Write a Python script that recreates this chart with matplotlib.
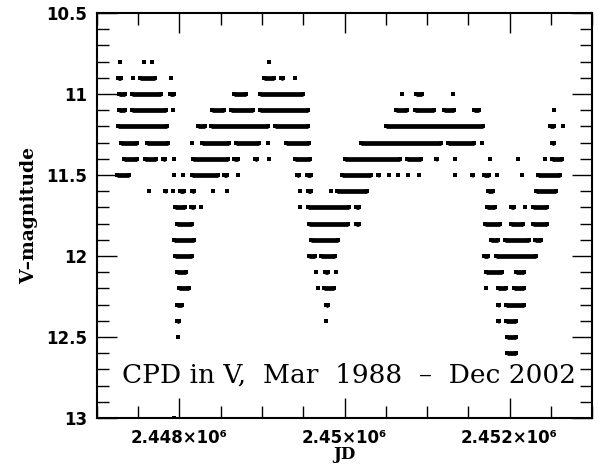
import numpy as np
import matplotlib
matplotlib.use('Agg')
from matplotlib import pyplot as plt
from matplotlib.ticker import MultipleLocator, FixedLocator, FixedFormatter, FormatStrFormatter

# runs of observations at each 0.1 mag level: (first JD, last JD)
v108 = [(2447280, 2447280), (2447570, 2447570), (2447665, 2447665), (2449090, 2449090)]
v109 = [(2447250, 2447290), (2447440, 2447440), (2447525, 2447700), (2447895, 2447895),
		(2449030, 2449140), (2449230, 2449255), (2449400, 2449400)]
v110 = [(2447265, 2447340), (2447420, 2447780), (2447890, 2447930), (2448660, 2448800),
		(2448970, 2449500), (2450700, 2450700), (2450870, 2450940), (2451315, 2451315)]
v111 = [(2447265, 2447340), (2447420, 2447840), (2447925, 2447925), (2448390, 2448535),
		(2448620, 2448885), (2448975, 2449555), (2450620, 2450760), (2450850, 2451085),
		(2451205, 2451325), (2451570, 2451625), (2452535, 2452535)]
v112 = [(2447255, 2447850), (2448220, 2448305), (2448380, 2449070), (2449155, 2449555),
		(2450500, 2451680), (2452495, 2452535), (2452645, 2452645)]
v113 = [(2447290, 2447480), (2447605, 2447860), (2448155, 2448155), (2448275, 2448595),
		(2448685, 2448965), (2449070, 2449070), (2449290, 2449575), (2450195, 2451175),
		(2451255, 2451570), (2451670, 2451670), (2452510, 2452535)]
v114 = [(2447330, 2447485), (2447580, 2447715), (2447800, 2447820), (2447930, 2447930),
		(2448160, 2448590), (2448660, 2448705), (2448920, 2448945), (2449080, 2449080),
		(2449400, 2449585), (2450005, 2450670), (2450760, 2450925), (2451105, 2451125),
		(2451340, 2451340), (2451760, 2451760), (2452100, 2452100), (2452430, 2452430),
		(2452510, 2452640)]
v115 = [(2447245, 2447385), (2447930, 2447930), (2448040, 2448040), (2448150, 2448465),
		(2448540, 2448575), (2448705, 2448705), (2449430, 2449450), (2449540, 2449595),
		(2449965, 2450320), (2450405, 2450415), (2450540, 2450540), (2450650, 2450650),
		(2450775, 2450775), (2450905, 2450905), (2451335, 2451335), (2451550, 2451560),
		(2451685, 2451755), (2451850, 2451850), (2452150, 2452150), (2452350, 2452615)]
v116 = [(2447625, 2447625), (2447830, 2447835), (2447925, 2447925), (2448010, 2448050),
		(2448150, 2448175), (2448410, 2448410), (2448575, 2448575), (2449455, 2449455),
		(2449560, 2449595), (2449840, 2449840), (2449915, 2450270), (2451745, 2451800),
		(2452315, 2452565)]
v117 = [(2447940, 2448070), (2448140, 2448175), (2448260, 2448260), (2449460, 2449460),
		(2449560, 2450060), (2450135, 2450175), (2451730, 2451820), (2452015, 2452050),
		(2452185, 2452185), (2452290, 2452455)]
v118 = [(2447970, 2448150), (2449575, 2450045), (2450145, 2450170), (2451705, 2451890),
		(2452020, 2452165), (2452290, 2452455)]
v119 = [(2447930, 2448175), (2449590, 2449925), (2451770, 2451860), (2451950, 2452240),
		(2452310, 2452385)]
v120 = [(2447940, 2448150), (2449575, 2449645), (2449720, 2449885), (2451695, 2451740),
		(2451835, 2452315)]
v121 = [(2447970, 2448080), (2449660, 2449660), (2449760, 2449805), (2449900, 2449900),
		(2451715, 2451910), (2452075, 2452175)]
v122 = [(2448000, 2448110), (2449675, 2449675), (2449755, 2449875), (2451710, 2451710),
		(2451860, 2451960), (2452060, 2452175)]
v123 = [(2447970, 2448025), (2449780, 2449805), (2451860, 2451870), (2451960, 2452175)]
v124 = [(2447970, 2448000), (2449780, 2449780), (2451860, 2451870), (2451960, 2452080)]
v125 = [(2447980, 2447980), (2451965, 2452080)]
v126 = [(2451965, 2452080)]
v130 = [(2447930, 2447930)]

levels = [(10.8, v108), (10.9, v109), (11.0, v110), (11.1, v111), (11.2, v112),
		  (11.3, v113), (11.4, v114), (11.5, v115), (11.6, v116), (11.7, v117),
		  (11.8, v118), (11.9, v119), (12.0, v120), (12.1, v121), (12.2, v122),
		  (12.3, v123), (12.4, v124), (12.5, v125), (12.6, v126), (13.0, v130)]

xticks = [2448000, 2450000, 2452000]
xtick_labels = ['2.448\u00d710\u2076', '2.45\u00d710\u2076', '2.452\u00d710\u2076']
title = 'CPD in V,  Mar  1988  \u2013  Dec 2002'

fig = plt.figure(figsize=(5.98, 4.65), dpi=100)
ax = fig.add_axes([0.1622, 0.1011, 0.8278, 0.871])

msize = 3.4
for mag, runs in levels:
	starts = np.array([r[0] for r in runs])
	ends = np.array([r[1] for r in runs])
	ax.hlines(np.full(len(runs), mag), starts, ends, colors='black', lw=msize,
			  capstyle='butt')
	ax.scatter(np.r_[starts, ends], np.full(2*len(runs), mag), marker='s',
			   s=msize**2, c='black', linewidths=0)

ax.set_xlim(2447000, 2453000)
ax.set_ylim(13, 10.5)

ax.xaxis.set_major_locator(FixedLocator(xticks))
ax.xaxis.set_major_formatter(FixedFormatter(xtick_labels))
ax.xaxis.set_minor_locator(MultipleLocator(500))
ax.yaxis.set_major_locator(MultipleLocator(0.5))
ax.yaxis.set_minor_locator(MultipleLocator(0.1))
ax.yaxis.set_major_formatter(FormatStrFormatter('%g'))

ax.tick_params(which='both', direction='in', top=True, right=True, color='black')
ax.tick_params(which='major', length=14.5, width=1.0)
ax.tick_params(which='minor', length=8.5, width=1.0)
ax.tick_params(axis='x', which='major', pad=8)
ax.tick_params(axis='y', which='major', pad=7)
for lab in ax.get_xticklabels() + ax.get_yticklabels():
	lab.set_fontfamily('DejaVu Sans')
	lab.set_fontweight('bold')
	lab.set_fontsize(12)
for sp in ax.spines.values():
	sp.set_linewidth(1.5)

ax.set_xlabel('JD', fontfamily='DejaVu Serif', fontweight='bold', fontsize=12, labelpad=-1)
ax.set_ylabel('V\u2013magnitude', fontfamily='DejaVu Serif', fontweight='bold', fontsize=13.5,
			  labelpad=6)

ax.text(0.0515, 0.0864, title, transform=ax.transAxes, fontfamily='DejaVu Serif',
		fontsize=19, va='baseline', ha='left')

plt.savefig('out.png', dpi=100)
